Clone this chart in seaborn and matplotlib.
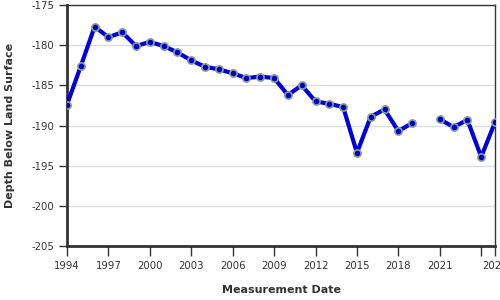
import matplotlib
matplotlib.use("Agg")
import matplotlib.pyplot as plt
import seaborn as sns
import pandas as pd
import numpy as np

years_a = [1994, 1995, 1996, 1997, 1998, 1999, 2000, 2001, 2002, 2003, 2004, 2005, 2006,
           2007, 2008, 2009, 2010, 2011, 2012, 2013, 2014, 2015, 2016, 2017, 2018, 2019]
depth_a = [-187.4, -182.6, -177.7, -179.0, -178.4, -180.1, -179.6, -180.1, -180.9, -181.9,
           -182.7, -183.0, -183.5, -184.1, -183.9, -184.1, -186.2, -185.0, -187.0, -187.3,
           -187.7, -193.4, -188.9, -188.0, -190.7, -189.7]
years_b = [2021, 2022, 2023, 2024, 2025]
depth_b = [-189.2, -190.2, -189.3, -193.9, -189.6]

x_ticks = [1994, 1997, 2000, 2003, 2006, 2009, 2012, 2015, 2018, 2021, 2024, 2025]
x_labels = ["1994", "1997", "2000", "2003", "2006", "2009", "2012", "2015", "2018", "2021", "", "2025"]
y_ticks = [-175, -180, -185, -190, -195, -200, -205]

df = pd.DataFrame({
    "year": years_a + years_b,
    "depth": depth_a + depth_b,
    "segment": [0] * len(years_a) + [1] * len(years_b),
})

sns.set_theme(style="white")
plt.rcParams['font.family'] = ['DejaVu Sans']

fig = plt.figure(figsize=(5, 3), dpi=100)
ax = fig.add_axes([0.134, 0.18, 0.856, 0.8033])

sns.lineplot(data=df, x="year", y="depth", units="segment", estimator=None,
             color="#0000dd", linewidth=3, marker="o", markersize=5.2,
             markerfacecolor="#0000cc", markeredgecolor="#8a9f8f", markeredgewidth=1.2,
             ax=ax, zorder=3)

ax.set_xlim(1994, 2025)
ax.set_ylim(-205, -175)
ax.set_xticks(x_ticks)
ax.set_xticklabels(x_labels)
ax.set_yticks(y_ticks)
ax.set_yticklabels([str(v) for v in y_ticks])

ax.grid(axis="y", color="#dddddd", linewidth=1)
ax.grid(axis="x", visible=False)
ax.set_axisbelow(True)

for side in ["left", "bottom"]:
    ax.spines[side].set_color("#333333")
    ax.spines[side].set_linewidth(2)
for side in ["top", "right"]:
    ax.spines[side].set_color("#333333")
    ax.spines[side].set_linewidth(1)

ax.tick_params(axis="both", which="major", labelsize=7.3, colors="#333333",
               length=6, width=1, direction="out", pad=3)
ax.tick_params(axis="x", length=7, pad=4)
ax.tick_params(axis="both", left=True, bottom=True)

ax.set_xlabel("Measurement Date", fontsize=8, fontweight="bold", color="#333333", labelpad=10)
ax.set_ylabel("Depth Below Land Surface", fontsize=8, fontweight="bold", color="#333333", labelpad=12)

fig.savefig("out.png", dpi=100)
